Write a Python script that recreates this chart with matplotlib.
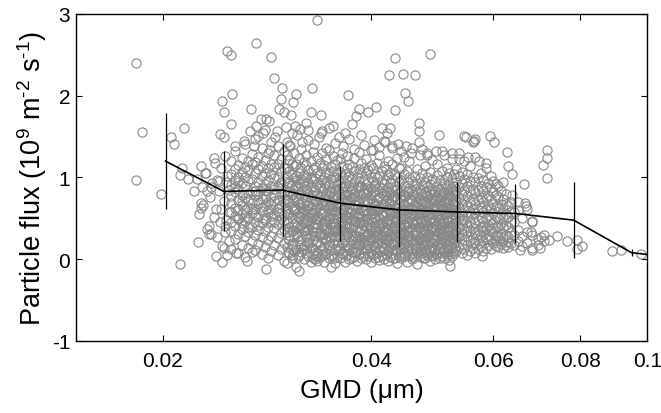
import matplotlib
matplotlib.use("Agg")
import matplotlib.pyplot as plt
from matplotlib.ticker import FixedLocator, FixedFormatter, NullLocator

plt.rcParams['font.family'] = ['Liberation Sans', 'DejaVu Sans']
plt.rcParams['mathtext.fontset'] = 'custom'
plt.rcParams['mathtext.rm'] = 'Liberation Sans'
plt.rcParams['mathtext.default'] = 'regular'

# ---- binned mean line with error bars ----
bin_gmd = [0.0202, 0.0245, 0.0298, 0.0361, 0.0438, 0.0532, 0.0645, 0.0783, 0.0949]
bin_mean = [1.20, 0.83, 0.846, 0.685, 0.604, 0.578, 0.56, 0.478, 0.08]
bin_err = [0.585, 0.49, 0.568, 0.46, 0.452, 0.365, 0.357, 0.468, 0.044]
tail_gmd = [0.0949, 0.1]
tail_flux = [0.08, 0.058]

# ---- scattered (sparse) points: (GMD um, flux) ----
sparse_pts = [
    (0.0183, 2.40), (0.0183, 0.97), (0.0187, 1.56), (0.0199, 0.80), (0.0206, 1.49),
    (0.0208, 1.41), (0.0213, 1.12), (0.0212, 1.03), (0.0215, 1.61), (0.0212, -0.06),
    (0.0218, 0.98), (0.0222, 0.84), (0.0225, 0.21), (0.0227, 1.14), (0.0227, 0.69),
    (0.0227, 0.63), (0.0230, 1.06), (0.0232, 0.84), (0.0232, 0.37), (0.0233, 0.31),
    (0.0235, 0.31), (0.0237, 1.24), (0.0239, 0.04), (0.0241, 0.96), (0.0242, 1.53),
    (0.0244, -0.04), (0.0244, 1.93), (0.0245, 1.49), (0.0245, 1.80), (0.0245, 0.14),
    (0.0246, 0.41), (0.0248, 2.55), (0.0251, 2.50), (0.0252, 2.02), (0.0251, 1.65),
    (0.0254, 1.39), (0.0255, 0.08), (0.0257, 0.51), (0.0265, -0.02), (0.0268, 1.84),
    (0.0273, 2.64), (0.0267, 1.57), (0.0273, 1.63), (0.0275, 1.51), (0.0277, 1.71),
    (0.0282, 1.72), (0.0282, -0.12), (0.0285, 1.69), (0.0287, 2.47), (0.0290, 2.22),
    (0.0292, 1.57), (0.0294, 1.84), (0.0297, 2.10), (0.0296, 1.96), (0.0299, 1.80),
    (0.0302, 1.43), (0.0306, 1.76), (0.0308, 1.92), (0.0312, 2.02), (0.0310, 1.63),
    (0.0315, -0.14), (0.0316, 1.59), (0.0322, 1.67), (0.0327, 1.80), (0.0328, 2.10),
    (0.0334, 2.93), (0.0338, 1.76), (0.0338, 1.55), (0.0340, 1.57), (0.0350, -0.10),
    (0.0352, 1.63), (0.0366, 1.55), (0.0370, 2.01), (0.0375, 1.65), (0.0380, 1.75),
    (0.0384, 1.84), (0.0395, 1.80), (0.0406, 1.86), (0.0414, 1.61), (0.0424, 2.25),
    (0.0432, 2.46), (0.0432, 1.82), (0.0426, 1.61), (0.0444, 2.27), (0.0447, 2.03),
    (0.0452, 1.94), (0.0463, 2.25), (0.0468, 1.67), (0.0468, 1.57), (0.0468, 1.43),
    (0.0486, 2.51), (0.0501, 1.52), (0.0519, -0.08), (0.0545, 1.51), (0.0561, 1.43),
    (0.0565, 1.47), (0.0548, 1.49), (0.0563, 1.45), (0.0594, 1.51), (0.0602, 1.43),
    (0.0627, 1.31), (0.0629, 1.14), (0.0638, 1.04), (0.0638, 0.78), (0.0665, 0.92),
    (0.0666, 0.69), (0.0668, 0.65), (0.0577, 0.04), (0.0716, 1.33), (0.0716, 1.24),
    (0.0708, 1.15), (0.0716, 0.99), (0.0683, 0.47), (0.0680, 0.33), (0.0655, 0.11),
    (0.0683, 0.11), (0.0700, 0.14), (0.0702, 0.27), (0.0722, 0.24), (0.0741, 0.29),
    (0.0766, 0.22), (0.0792, 0.24), (0.0792, 0.12), (0.0806, 0.16), (0.0889, 0.10),
    (0.0915, 0.11), (0.0980, 0.06),
]

# upper fringe of the cloud (GMD um, flux)
upper_pts = [
    (0.0262, 1.45), (0.0271, 1.38), (0.0279, 1.55), (0.0286, 1.33), (0.0291, 1.49),
    (0.0301, 1.62), (0.0305, 1.38), (0.0313, 1.52), (0.0318, 1.44), (0.0324, 1.58),
    (0.0331, 1.41), (0.0336, 1.49), (0.0344, 1.36), (0.0347, 1.60), (0.0355, 1.42),
    (0.0359, 1.50), (0.0364, 1.38), (0.0372, 1.47), (0.0378, 1.35), (0.0386, 1.52),
    (0.0391, 1.40), (0.0399, 1.33), (0.0403, 1.46), (0.0411, 1.37), (0.0418, 1.44),
    (0.0422, 1.54), (0.0429, 1.36), (0.0437, 1.41), (0.0441, 1.32), (0.0449, 1.38),
    (0.0456, 1.30), (0.0473, 1.35), (0.0481, 1.28), (0.0495, 1.32), (0.0509, 1.27),
    (0.0522, 1.30), (0.0535, 1.22), (0.0552, 1.25), (0.0571, 1.20), (0.0586, 1.18),
]

# ---- dense cloud, read column by column: (GMD nm, [flux values]) ----
cloud_a = [
    (22.4, [.98]), (22.6, [.55]), (22.8, [.88]), (22.9, [.66]), (23.1, [1.05]),
    (23.3, [.41]), (23.4, [.76]), (23.5, [.88]), (23.6, [.93]), (23.7, [.52]),
    (23.8, [1.18]), (23.9, [.62]), (24.0, [.27, .97]), (24.1, [.83]), (24.2, [.45]),
    (24.3, [1.12, .62]), (24.4, [.16]), (24.5, [.71]), (24.6, [.33, 1.26]),
    (24.7, [.95, .48]), (24.8, [1.02, .05]), (24.9, [.58, .22, .85]),
]
cloud_b = [
    (25.1, [.12, .35, .58, .77, .91, 1.04, 1.2, .46, .69]),
    (25.4, [.25, .41, .63, .82, .97, 1.1, .53, .88, 1.32]),
    (25.7, [.08, .31, .49, .72, .86, 1.01, 1.15, .6, .94]),
    (26.0, [.18, .37, .55, .66, .79, .93, 1.07, 1.24, .44, .71]),
    (26.3, [.03, .28, .47, .6, .75, .89, 1.0, 1.13, 1.41, .52]),
    (26.6, [.14, .33, .5, .64, .81, .96, 1.09, 1.2, .73, .4]),
    (26.9, [.22, .39, .57, .69, .84, .98, 1.16, 1.29, .62, .09]),
    (27.2, [.11, .3, .45, .61, .78, .9, 1.05, 1.19, 1.47, .54, .83]),
    (27.5, [.19, .36, .52, .67, .8, .95, 1.1, 1.25, .42, .73]),
    (27.8, [.06, .27, .44, .59, .74, .87, 1.02, 1.14, 1.36, .64]),
    (28.1, [.15, .34, .51, .65, .77, .92, 1.06, 1.21, .48, .85, 1.58]),
    (28.4, [.24, .4, .56, .7, .83, .97, 1.12, 1.3, .6, .01]),
    (28.7, [.1, .29, .46, .62, .76, .9, 1.04, 1.17, .53, .68, 1.44]),
    (29.0, [.17, .38, .55, .71, .86, .99, 1.13, 1.27, .45, .79]),
    (29.3, [.05, .26, .43, .58, .72, .88, 1.01, 1.16, 1.38, .63]),
    (29.6, [.13, .32, .49, .66, .81, .94, 1.08, 1.23, .56, .87]),
    (29.9, [.2, .37, .54, .69, .82, .96, 1.11, 1.32, .47, .74, -.02]),
]
cloud_c = [
    (30.2, [-.05, .15, .33, .48, .61, .74, .88, 1.0, 1.12, 1.27, .55]),
    (30.45, [.07, .24, .4, .57, .69, .83, .95, 1.08, 1.21, 1.4, .3]),
    (30.7, [.02, .19, .36, .5, .65, .78, .91, 1.04, 1.17, .12, 1.55]),
    (30.95, [.1, .27, .43, .59, .72, .85, .99, 1.14, 1.3, .63]),
    (31.2, [-.1, .13, .31, .46, .6, .76, .89, 1.02, 1.16, .39, .97]),
    (31.45, [.05, .22, .38, .53, .67, .8, .93, 1.06, 1.24, .58]),
    (31.7, [.09, .25, .42, .56, .7, .84, .98, 1.11, 1.35, .17, .63]),
    (31.95, [.0, .16, .34, .49, .62, .77, .9, 1.03, 1.19, .45]),
    (32.2, [.12, .29, .44, .6, .73, .86, 1.0, 1.15, 1.28, .36, .54]),
    (32.45, [.04, .2, .37, .52, .66, .81, .94, 1.09, .27, 1.46]),
    (32.7, [-.03, .14, .3, .47, .61, .75, .88, 1.01, 1.2, .57]),
    (32.95, [.06, .23, .39, .55, .68, .82, .96, 1.1, .02, .33, 1.31]),
    (33.2, [.0, .11, .28, .43, .58, .71, .85, .99, 1.13, .49]),
    (33.45, [-.02, .08, .21, .35, .51, .64, .79, .92, 1.05, 1.25, .43]),
    (33.7, [.03, .18, .32, .48, .62, .76, .9, 1.04, 1.18, .57]),
    (33.95, [.1, .26, .41, .55, .69, .83, .97, 1.12, 1.3, .05]),
    (34.2, [-.04, .15, .31, .46, .6, .74, .87, 1.0, 1.15, .38]),
    (34.45, [.07, .22, .37, .53, .66, .8, .94, 1.07, 1.22, .47]),
    (34.7, [.01, .17, .33, .49, .63, .77, .91, 1.05, 1.33, .27]),
    (34.95, [.11, .27, .42, .57, .7, .84, .98, 1.13, .6, .04]),
    (35.2, [.05, .2, .36, .51, .65, .79, .93, 1.08, 1.26, .44]),
    (35.45, [.13, .29, .44, .59, .72, .86, 1.0, 1.16, .34, -.05]),
    (35.7, [.03, .18, .34, .5, .64, .78, .92, 1.06, 1.21, .55]),
]
cloud_d = [
    (36.0, [.02, .14, .29, .41, .56, .68, .8, .93, 1.07, 1.22, .35]),
    (36.3, [.08, .2, .35, .47, .6, .74, .87, 1.0, 1.14, 1.3, .52]),
    (36.6, [-.04, .11, .25, .39, .53, .65, .79, .9, 1.04, .18, .71]),
    (36.9, [.05, .17, .31, .44, .58, .7, .84, .97, 1.11, 1.26, .38]),
    (37.2, [.0, .13, .27, .4, .51, .63, .77, .89, 1.02, .58, 1.17]),
    (37.5, [.09, .22, .36, .48, .62, .75, .86, .99, 1.13, .29]),
    (37.8, [.03, .15, .3, .42, .55, .67, .81, .94, 1.08, 1.24, .47]),
    (38.1, [-.02, .1, .24, .37, .5, .61, .73, .88, 1.01, .19, .66]),
    (38.4, [.06, .19, .33, .45, .57, .71, .83, .96, 1.1, 1.31]),
    (38.7, [.01, .12, .26, .38, .52, .64, .78, .9, 1.05, .45, 1.18]),
    (39.0, [.07, .2, .34, .47, .59, .72, .85, .98, 1.12, .27]),
    (39.3, [.0, .14, .28, .41, .54, .66, .8, .92, 1.06, 1.22, .6]),
    (39.6, [.04, .17, .31, .43, .56, .69, .82, .95, 1.09, .23]),
    (39.9, [-.03, .1, .23, .36, .49, .62, .74, .87, 1.0, 1.15, .4]),
    (40.2, [.05, .18, .32, .45, .57, .7, .83, .96, 1.11, .26, 1.34]),
    (40.5, [.02, .13, .27, .39, .52, .65, .78, .91, 1.04, .6]),
    (40.8, [.08, .21, .35, .47, .6, .73, .86, .99, 1.18, .3]),
    (41.1, [-.01, .11, .25, .38, .5, .63, .76, .88, 1.02, 1.28, .44]),
    (41.4, [.04, .16, .3, .42, .55, .68, .81, .94, 1.08, .2]),
    (41.7, [.0, .12, .26, .4, .53, .66, .79, .92, 1.14, .35, 1.45]),
    (42.0, [.06, .19, .33, .45, .58, .71, .84, .97, 1.1, .25]),
    (42.3, [-.02, .1, .23, .37, .49, .62, .75, .88, 1.03, 1.2, .43]),
    (42.6, [.03, .15, .29, .42, .55, .67, .8, .93, 1.06, .59]),
    (42.9, [.07, .2, .34, .46, .59, .72, .85, .98, 1.16, 1.38]),
    (43.2, [.01, .13, .27, .4, .52, .64, .77, .9, 1.04, .31]),
    (43.5, [-.05, .09, .22, .35, .48, .61, .74, .86, 1.0, 1.24, .56]),
    (43.8, [.04, .17, .31, .43, .56, .69, .82, .95, 1.12, .26]),
]
cloud_e = [
    (44.2, [.02, .13, .25, .37, .49, .6, .72, .84, .97, 1.11, .3]),
    (44.6, [.07, .19, .31, .43, .55, .66, .78, .9, 1.04, 1.25]),
    (45.0, [-.03, .1, .22, .34, .46, .58, .7, .82, .95, 1.08, .4]),
    (45.4, [.04, .16, .28, .4, .52, .63, .75, .87, 1.0, 1.2, .26]),
    (45.8, [.0, .12, .24, .36, .48, .6, .71, .83, .96, .53, 1.36]),
    (46.2, [.06, .18, .3, .42, .54, .66, .77, .89, 1.02, .35]),
    (46.6, [-.06, .09, .21, .33, .45, .57, .69, .81, .93, 1.1, .48]),
    (47.0, [.03, .15, .27, .39, .5, .62, .74, .86, .99, 1.27]),
    (47.4, [.08, .2, .32, .44, .56, .67, .79, .91, 1.05, .23, .6]),
    (47.8, [.01, .11, .23, .35, .47, .59, .7, .82, .94, 1.14]),
    (48.2, [.05, .17, .29, .41, .53, .64, .76, .88, 1.01, .38, 1.3]),
    (48.6, [-.02, .1, .22, .34, .46, .57, .69, .8, .92, 1.07, .5]),
    (49.0, [.04, .14, .26, .38, .5, .61, .73, .85, .98, 1.21]),
    (49.4, [.0, .12, .24, .36, .47, .59, .71, .83, .96, .3, .65]),
    (49.8, [.06, .18, .3, .42, .54, .65, .77, .89, 1.03, 1.16]),
    (50.2, [.02, .13, .25, .37, .49, .6, .72, .84, .97, .43]),
    (50.6, [.07, .19, .31, .43, .55, .66, .78, .9, 1.08, 1.32]),
    (51.0, [.01, .11, .23, .35, .46, .58, .7, .81, .93, .28]),
    (51.4, [.05, .16, .28, .4, .52, .63, .75, .87, 1.0, 1.12, .56]),
    (51.8, [-.01, .1, .22, .33, .45, .57, .68, .8, .92, 1.06]),
    (52.2, [.04, .15, .27, .39, .5, .62, .74, .86, .99, .35, 1.22]),
    (52.6, [.08, .2, .31, .43, .55, .67, .78, .9, 1.04]),
]
cloud_f = [
    (53.0, [.1, .22, .34, .46, .58, .7, .82, .95, 1.1, .28]),
    (53.5, [.15, .27, .39, .51, .63, .75, .88, 1.02, 1.3]),
    (54.0, [.07, .19, .31, .43, .55, .67, .8, .93, 1.07, .48]),
    (54.5, [.12, .24, .36, .48, .6, .72, .85, .98, 1.2]),
    (55.0, [.05, .17, .29, .41, .53, .65, .77, .9, 1.04, .35]),
    (55.5, [.1, .22, .34, .46, .58, .7, .83, .96, 1.14]),
    (56.0, [.14, .26, .38, .5, .62, .74, .86, 1.0, .2]),
    (56.5, [.08, .2, .32, .44, .56, .68, .81, .94, 1.25]),
    (57.0, [.12, .24, .36, .48, .6, .72, .85, .99, .3]),
    (57.5, [.16, .28, .4, .52, .64, .76, .9, 1.06]),
    (58.0, [.1, .22, .34, .46, .58, .7, .83, .97, .41]),
    (58.5, [.14, .26, .38, .5, .62, .75, .88, 1.12]),
    (59.0, [.18, .3, .42, .54, .66, .79, .93, .25]),
    (59.5, [.13, .25, .37, .49, .61, .74, .87, 1.02]),
    (60.0, [.2, .32, .44, .56, .68, .82, .96, .38]),
    (60.5, [.16, .28, .4, .52, .64, .78, .92, .23]),
    (61.0, [.15, .27, .39, .51, .63, .76, .9]),
    (61.5, [.19, .31, .43, .55, .68, .83, .22]),
    (62.0, [.14, .26, .38, .5, .62, .74, .95]),
    (62.5, [.18, .3, .42, .55, .67, .8]),
    (63.0, [.15, .27, .4, .52, .65, .21]),
    (63.5, [.2, .33, .45, .58, .7]),
]
cloud_g = [
    (64.3, [.18, .3, .45, .58]), (65.2, [.22, .36, .6, .7]), (66.0, [.16, .28, .5]),
    (67.0, [.2, .33, .62]), (68.2, [.14, .3, .45]), (69.5, [.25, .18]), (71.0, [.22, .3]),
]
# denser lower half of the cloud (interleaved columns)
cloud_h = [
    (30.33, [.09, .26, .44, .71, .93]), (30.83, [.18, .35, .62, .8, .05]),
    (31.33, [.03, .29, .52, .74, .88]), (31.83, [.12, .4, .58, .69, .95]),
    (32.33, [.07, .21, .47, .66, .84]), (32.83, [.15, .33, .51, .79, .98]),
    (33.33, [.04, .19, .38, .62, .73]), (33.83, [.13, .3, .55, .68, .87]),
    (34.33, [.06, .25, .43, .71, .92]), (34.83, [.17, .36, .49, .65, .82]),
    (35.33, [.02, .23, .4, .58, .77]), (35.83, [.1, .28, .46, .69, .86]),
    (36.43, [.06, .2, .44, .62, .9]), (36.93, [.14, .33, .51, .72, .8]),
    (37.43, [.01, .24, .39, .57, .83]), (37.93, [.09, .28, .47, .66, .77]),
    (38.43, [.16, .35, .53, .7, .88]), (38.93, [.04, .21, .42, .6, .81]),
    (39.43, [.12, .3, .49, .73, .86]), (39.93, [.07, .25, .39, .56, .79]),
    (40.43, [.15, .34, .5, .68, .84]), (40.93, [.03, .2, .43, .61, .75]),
    (41.43, [.1, .27, .46, .64, .87]), (41.93, [.06, .24, .37, .55, .78]),
    (42.43, [.13, .31, .48, .7, .82]), (42.93, [.02, .19, .41, .58, .76]),
    (43.43, [.11, .28, .45, .63, .85]), (43.93, [.07, .23, .39, .57, .74]),
    (44.4, [.15, .32, .5, .68, .79]), (44.8, [.04, .2, .41, .6, .77]),
    (45.2, [.12, .29, .46, .63, .83]), (45.6, [.08, .24, .38, .57, .72]),
    (46.0, [.03, .21, .44, .61, .8]), (46.4, [.14, .3, .47, .65, .86]),
    (46.8, [.06, .23, .39, .55, .74]), (47.2, [.11, .27, .45, .62, .81]),
    (47.6, [.02, .19, .36, .58, .71]), (48.0, [.09, .26, .43, .6, .78]),
    (48.4, [.13, .31, .48, .66, .84]), (48.8, [.05, .21, .4, .56, .75]),
    (49.2, [.1, .28, .44, .63, .8]), (49.6, [.07, .23, .37, .55, .73]),
    (50.0, [.14, .32, .49, .67, .86]), (50.4, [.04, .2, .41, .59, .76]),
    (50.8, [.11, .27, .45, .62, .82]), (51.2, [.08, .24, .38, .57, .71]),
    (51.6, [.13, .3, .46, .64, .79]), (52.0, [.06, .22, .4, .58, .77]),
    (52.4, [.1, .26, .43, .61, .83]), (52.8, [.15, .33, .5, .66, .8]),
]

xticks = [0.02, 0.04, 0.06, 0.08, 0.1]
xtick_labels = ['0.02', '0.04', '0.06', '0.08', '0.1']
yticks = [-1, 0, 1, 2, 3]
ytick_labels = ['-1', '0', '1', '2', '3']

# assemble scatter arrays
sx = [p[0] for p in sparse_pts + upper_pts]
sy = [p[1] for p in sparse_pts + upper_pts]
for cloud in (cloud_a, cloud_b, cloud_c, cloud_d, cloud_e, cloud_f, cloud_g, cloud_h):
    for g_nm, fl in cloud:
        for v in fl:
            sx.append(g_nm / 1000.0)
            sy.append(v)

fig = plt.figure(figsize=(6.61, 4.14), dpi=100)
ax = fig.add_axes([0.1148, 0.174, 0.9793 - 0.1148, 0.9638 - 0.174])

ax.plot(sx, sy, linestyle='none', marker='o', markersize=6.6,
        markerfacecolor='none', markeredgecolor='#888888', markeredgewidth=0.8, zorder=2)

ax.errorbar(bin_gmd, bin_mean, yerr=bin_err, fmt='none', ecolor='black',
            elinewidth=0.9, capsize=0, zorder=3)
ax.plot(bin_gmd + tail_gmd[1:], bin_mean + tail_flux[1:], color='black', lw=1.2, zorder=4)

ax.set_xscale('log')
ax.set_xlim(0.0150, 0.1)
ax.set_ylim(-1, 3)
ax.xaxis.set_major_locator(FixedLocator(xticks))
ax.xaxis.set_major_formatter(FixedFormatter(xtick_labels))
ax.xaxis.set_minor_locator(NullLocator())
ax.set_yticks(yticks)
ax.set_yticklabels(ytick_labels)

ax.tick_params(axis='both', which='both', direction='in', top=True, right=True,
               length=4, width=0.8, labelsize=15)
ax.tick_params(axis='x', pad=7)
ax.tick_params(axis='y', pad=4)
for s in ax.spines.values():
    s.set_linewidth(1.0)

ax.set_xlabel('GMD (μm)', fontsize=19, labelpad=6)
ax.set_ylabel(r'Particle flux (10$^{9}$ m$^{\text{-}2}$ s$^{\text{-}1}$)', fontsize=19.5, labelpad=2)

fig.savefig('out.png', dpi=100)
